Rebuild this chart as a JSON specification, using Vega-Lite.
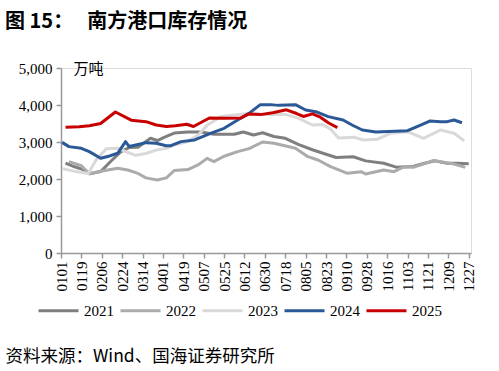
{
  "$schema": "https://vega.github.io/schema/vega-lite/v6.json",
  "width": 410,
  "height": 185,
  "autosize": {"type": "none"},
  "padding": {"left": 61, "top": 68, "right": 28, "bottom": 118},
  "background": "white",
  "title": {
    "text": "图 15：\u2002\u2009南方港口库存情况",
    "anchor": "start",
    "frame": "group",
    "dx": -56,
    "offset": 29,
    "font": "Noto Sans CJK SC",
    "fontSize": 20,
    "fontWeight": "bold",
    "color": "#000000"
  },
  "data": {
    "values": [
      {"year": "2021", "d": 4, "v": 2430}, {"year": "2021", "d": 12, "v": 2330}, {"year": "2021", "d": 19, "v": 2260}, {"year": "2021", "d": 25, "v": 2140}, {"year": "2021", "d": 35, "v": 2200}, {"year": "2021", "d": 44, "v": 2480}, {"year": "2021", "d": 53, "v": 2740}, {"year": "2021", "d": 60, "v": 2850}, {"year": "2021", "d": 68, "v": 2860}, {"year": "2021", "d": 79, "v": 3100}, {"year": "2021", "d": 85, "v": 3040}, {"year": "2021", "d": 93, "v": 3150}, {"year": "2021", "d": 100, "v": 3240}, {"year": "2021", "d": 112, "v": 3270}, {"year": "2021", "d": 124, "v": 3270}, {"year": "2021", "d": 135, "v": 3210}, {"year": "2021", "d": 153, "v": 3210}, {"year": "2021", "d": 161, "v": 3270}, {"year": "2021", "d": 170, "v": 3190}, {"year": "2021", "d": 178, "v": 3250}, {"year": "2021", "d": 188, "v": 3150}, {"year": "2021", "d": 198, "v": 3100}, {"year": "2021", "d": 210, "v": 2930}, {"year": "2021", "d": 222, "v": 2790}, {"year": "2021", "d": 234, "v": 2670}, {"year": "2021", "d": 243, "v": 2580}, {"year": "2021", "d": 258, "v": 2600}, {"year": "2021", "d": 269, "v": 2490}, {"year": "2021", "d": 285, "v": 2425}, {"year": "2021", "d": 296, "v": 2320}, {"year": "2021", "d": 311, "v": 2340}, {"year": "2021", "d": 321, "v": 2425}, {"year": "2021", "d": 330, "v": 2490}, {"year": "2021", "d": 341, "v": 2425}, {"year": "2021", "d": 350, "v": 2425}, {"year": "2021", "d": 360, "v": 2410},
      {"year": "2022", "d": 7, "v": 2470}, {"year": "2022", "d": 18, "v": 2360}, {"year": "2022", "d": 25, "v": 2140}, {"year": "2022", "d": 35, "v": 2210}, {"year": "2022", "d": 50, "v": 2290}, {"year": "2022", "d": 59, "v": 2243}, {"year": "2022", "d": 68, "v": 2150}, {"year": "2022", "d": 75, "v": 2030}, {"year": "2022", "d": 85, "v": 1975}, {"year": "2022", "d": 93, "v": 2030}, {"year": "2022", "d": 100, "v": 2230}, {"year": "2022", "d": 112, "v": 2255}, {"year": "2022", "d": 121, "v": 2380}, {"year": "2022", "d": 129, "v": 2558}, {"year": "2022", "d": 135, "v": 2468}, {"year": "2022", "d": 144, "v": 2615}, {"year": "2022", "d": 156, "v": 2740}, {"year": "2022", "d": 166, "v": 2820}, {"year": "2022", "d": 178, "v": 3000}, {"year": "2022", "d": 188, "v": 2965}, {"year": "2022", "d": 207, "v": 2830}, {"year": "2022", "d": 218, "v": 2604}, {"year": "2022", "d": 227, "v": 2513}, {"year": "2022", "d": 238, "v": 2333}, {"year": "2022", "d": 253, "v": 2153}, {"year": "2022", "d": 265, "v": 2198}, {"year": "2022", "d": 269, "v": 2135}, {"year": "2022", "d": 285, "v": 2243}, {"year": "2022", "d": 294, "v": 2198}, {"year": "2022", "d": 303, "v": 2333}, {"year": "2022", "d": 311, "v": 2315}, {"year": "2022", "d": 329, "v": 2500}, {"year": "2022", "d": 347, "v": 2405}, {"year": "2022", "d": 357, "v": 2315},
      {"year": "2023", "d": 1, "v": 2280}, {"year": "2023", "d": 13, "v": 2200}, {"year": "2023", "d": 24, "v": 2150}, {"year": "2023", "d": 31, "v": 2515}, {"year": "2023", "d": 40, "v": 2820}, {"year": "2023", "d": 51, "v": 2830}, {"year": "2023", "d": 57, "v": 2740}, {"year": "2023", "d": 66, "v": 2640}, {"year": "2023", "d": 75, "v": 2690}, {"year": "2023", "d": 84, "v": 2780}, {"year": "2023", "d": 93, "v": 2830}, {"year": "2023", "d": 100, "v": 2920}, {"year": "2023", "d": 112, "v": 3010}, {"year": "2023", "d": 121, "v": 3190}, {"year": "2023", "d": 129, "v": 3450}, {"year": "2023", "d": 141, "v": 3680}, {"year": "2023", "d": 153, "v": 3730}, {"year": "2023", "d": 165, "v": 3770}, {"year": "2023", "d": 181, "v": 3740}, {"year": "2023", "d": 199, "v": 3740}, {"year": "2023", "d": 210, "v": 3640}, {"year": "2023", "d": 222, "v": 3460}, {"year": "2023", "d": 231, "v": 3470}, {"year": "2023", "d": 238, "v": 3350}, {"year": "2023", "d": 245, "v": 3110}, {"year": "2023", "d": 259, "v": 3127}, {"year": "2023", "d": 267, "v": 3054}, {"year": "2023", "d": 279, "v": 3072}, {"year": "2023", "d": 291, "v": 3235}, {"year": "2023", "d": 306, "v": 3280}, {"year": "2023", "d": 320, "v": 3100}, {"year": "2023", "d": 335, "v": 3324}, {"year": "2023", "d": 347, "v": 3235}, {"year": "2023", "d": 356, "v": 3035},
      {"year": "2024", "d": 1, "v": 2990}, {"year": "2024", "d": 7, "v": 2875}, {"year": "2024", "d": 18, "v": 2830}, {"year": "2024", "d": 25, "v": 2740}, {"year": "2024", "d": 35, "v": 2560}, {"year": "2024", "d": 43, "v": 2623}, {"year": "2024", "d": 50, "v": 2695}, {"year": "2024", "d": 57, "v": 3010}, {"year": "2024", "d": 60, "v": 2880}, {"year": "2024", "d": 66, "v": 2920}, {"year": "2024", "d": 75, "v": 2983}, {"year": "2024", "d": 84, "v": 2965}, {"year": "2024", "d": 93, "v": 2900}, {"year": "2024", "d": 97, "v": 2900}, {"year": "2024", "d": 106, "v": 3010}, {"year": "2024", "d": 118, "v": 3055}, {"year": "2024", "d": 132, "v": 3235}, {"year": "2024", "d": 144, "v": 3370}, {"year": "2024", "d": 156, "v": 3595}, {"year": "2024", "d": 166, "v": 3775}, {"year": "2024", "d": 176, "v": 4010}, {"year": "2024", "d": 185, "v": 4010}, {"year": "2024", "d": 192, "v": 3990}, {"year": "2024", "d": 207, "v": 4010}, {"year": "2024", "d": 216, "v": 3865}, {"year": "2024", "d": 225, "v": 3820}, {"year": "2024", "d": 236, "v": 3685}, {"year": "2024", "d": 249, "v": 3595}, {"year": "2024", "d": 257, "v": 3460}, {"year": "2024", "d": 266, "v": 3325}, {"year": "2024", "d": 278, "v": 3270}, {"year": "2024", "d": 306, "v": 3305}, {"year": "2024", "d": 318, "v": 3460}, {"year": "2024", "d": 326, "v": 3568}, {"year": "2024", "d": 335, "v": 3550}, {"year": "2024", "d": 341, "v": 3550}, {"year": "2024", "d": 347, "v": 3595}, {"year": "2024", "d": 354, "v": 3520},
      {"year": "2025", "d": 4, "v": 3400}, {"year": "2025", "d": 16, "v": 3410}, {"year": "2025", "d": 25, "v": 3440}, {"year": "2025", "d": 35, "v": 3500}, {"year": "2025", "d": 48, "v": 3810}, {"year": "2025", "d": 62, "v": 3590}, {"year": "2025", "d": 75, "v": 3550}, {"year": "2025", "d": 84, "v": 3460}, {"year": "2025", "d": 93, "v": 3420}, {"year": "2025", "d": 101, "v": 3440}, {"year": "2025", "d": 111, "v": 3480}, {"year": "2025", "d": 117, "v": 3420}, {"year": "2025", "d": 131, "v": 3650}, {"year": "2025", "d": 146, "v": 3640}, {"year": "2025", "d": 159, "v": 3650}, {"year": "2025", "d": 166, "v": 3760}, {"year": "2025", "d": 176, "v": 3740}, {"year": "2025", "d": 187, "v": 3790}, {"year": "2025", "d": 199, "v": 3870}, {"year": "2025", "d": 208, "v": 3770}, {"year": "2025", "d": 214, "v": 3690}, {"year": "2025", "d": 222, "v": 3760}, {"year": "2025", "d": 229, "v": 3670}, {"year": "2025", "d": 236, "v": 3520}, {"year": "2025", "d": 244, "v": 3390}
    ]
  },
  "mark": {"type": "line", "strokeJoin": "round", "strokeCap": "butt"},
  "encoding": {
    "x": {
      "field": "d",
      "type": "quantitative",
      "scale": {"domain": [0, 362], "nice": false, "zero": false},
      "axis": {
        "values": [0, 18, 36, 54, 72, 90, 108, 126, 144, 162, 180, 198, 216, 234, 252, 270, 288, 306, 324, 342, 360],
        "labelExpr": "timeFormat(datetime(2021, 0, 1 + datum.value), '%m%d')",
        "labelAngle": -90,
        "labelFont": "Liberation Serif",
        "labelFontSize": 15,
        "labelColor": "#000000",
        "labelPadding": 3,
        "labelOverlap": false,
        "labelFlush": false,
        "domainColor": "#999999",
        "domainWidth": 1.5,
        "tickColor": "#999999",
        "tickWidth": 1.5,
        "tickSize": 5,
        "grid": false,
        "title": "资料来源：Wind、国海证券研究所",
        "titleFont": "Noto Sans CJK SC",
        "titleFontSize": 17.5,
        "titleFontWeight": "normal",
        "titleColor": "#000000",
        "titleX": -56,
        "titleY": 103,
        "titleAlign": "left",
        "titleAnchor": "start",
        "titleBaseline": "middle"
      }
    },
    "y": {
      "field": "v",
      "type": "quantitative",
      "scale": {"domain": [0, 5000], "nice": false},
      "axis": {
        "values": [0, 1000, 2000, 3000, 4000, 5000],
        "format": ",.0f",
        "labelFont": "Liberation Serif",
        "labelFontSize": 15,
        "labelColor": "#000000",
        "labelPadding": 4,
        "domainColor": "#999999",
        "domainWidth": 1.5,
        "tickColor": "#999999",
        "tickWidth": 1.5,
        "tickSize": 5,
        "grid": false,
        "title": "万吨",
        "titleAngle": 0,
        "titleX": 12,
        "titleY": 0,
        "titleAlign": "left",
        "titleBaseline": "middle",
        "titleFont": "Noto Sans CJK SC",
        "titleFontSize": 15,
        "titleFontWeight": "normal",
        "titleColor": "#000000"
      }
    },
    "color": {
      "field": "year",
      "type": "nominal",
      "scale": {
        "domain": ["2021", "2022", "2023", "2024", "2025"],
        "range": ["#7f7f7f", "#ababab", "#d9d9d9", "#2b5896", "#c80000"]
      },
      "legend": {
        "orient": "none",
        "legendX": -24,
        "legendY": 221,
        "direction": "horizontal",
        "title": null,
        "symbolType": "stroke",
        "symbolSize": 1600,
        "labelFont": "Liberation Serif",
        "labelFontSize": 15,
        "labelColor": "#000000",
        "labelOffset": 4,
        "columnPadding": 0
      }
    },
    "strokeWidth": {
      "field": "year",
      "type": "nominal",
      "scale": {
        "domain": ["2021", "2022", "2023", "2024", "2025"],
        "range": [3, 3, 3, 3, 5]
      }
    }
  }
}
